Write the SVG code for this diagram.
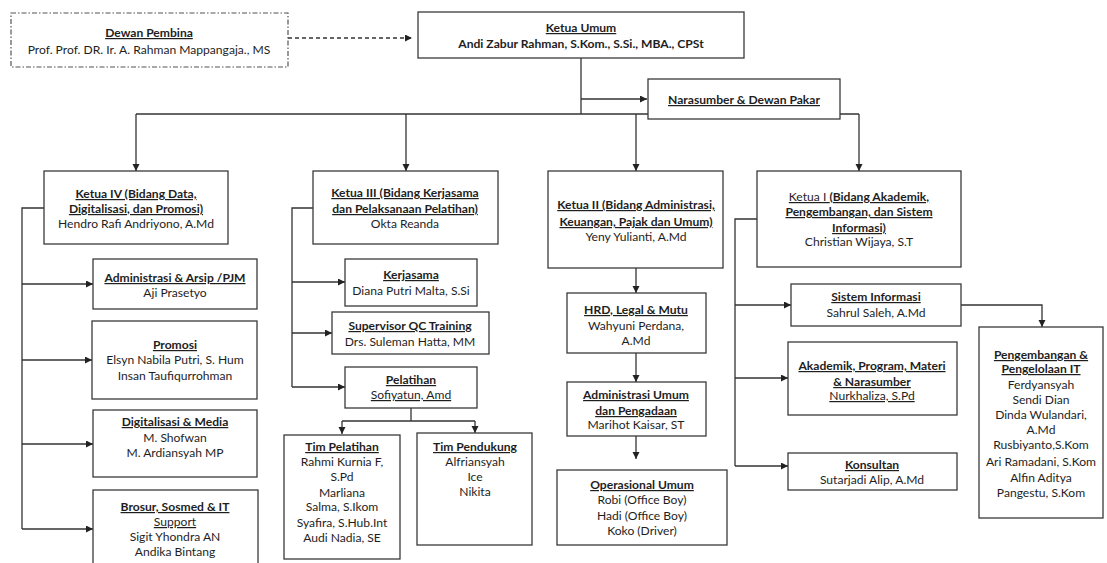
<svg xmlns="http://www.w3.org/2000/svg" width="1107" height="563" viewBox="0 0 1107 563">
<style>
.box{fill:#fff;stroke:#3a3a3a;stroke-width:1.3}
.dash{fill:#fff;stroke:#555;stroke-width:1.2;stroke-dasharray:5 2 1.5 2}
text{font-family:Lato,"Open Sans","Liberation Sans",sans-serif;font-size:12.1px;fill:#1e1e1e;text-anchor:middle}
.b{font-weight:bold}
.u{text-decoration:underline}
.c line,.c path{fill:none;stroke:#333;stroke-width:1.3}
</style>
<defs>
<marker id="ah" markerUnits="userSpaceOnUse" markerWidth="8" markerHeight="8" refX="7" refY="3.5" orient="auto">
<path d="M0,0 L7,3.5 L0,7 z" fill="#222"/>
</marker>
</defs>

<g class="c" id="connectors">
<path d="M288,38 H412" stroke-dasharray="4 3" marker-end="url(#ah)"/>
<path d="M581,58 V114"/>
<path d="M581,99 H647" marker-end="url(#ah)"/>
<path d="M136,114 H859"/>
<path d="M136,114 V171" marker-end="url(#ah)"/>
<path d="M406,114 V171" marker-end="url(#ah)"/>
<path d="M636,114 V171" marker-end="url(#ah)"/>
<path d="M859,114 V171" marker-end="url(#ah)"/>
<path d="M44,208 H22 V529"/>
<path d="M22,284 H93" marker-end="url(#ah)"/>
<path d="M22,360 H92" marker-end="url(#ah)"/>
<path d="M22,444 H93" marker-end="url(#ah)"/>
<path d="M22,529 H93" marker-end="url(#ah)"/>
<path d="M313,208 H292 V387"/>
<path d="M292,282 H345" marker-end="url(#ah)"/>
<path d="M292,333 H332" marker-end="url(#ah)"/>
<path d="M292,387 H345" marker-end="url(#ah)"/>
<path d="M411,408 V421"/>
<path d="M342,421 H475"/>
<path d="M342,421 V434" marker-end="url(#ah)"/>
<path d="M475,421 V433" marker-end="url(#ah)"/>
<path d="M636,268 V293" marker-end="url(#ah)"/>
<path d="M636,353 V382" marker-end="url(#ah)"/>
<path d="M636,436 V459" marker-end="url(#ah)"/>
<path d="M757,219 H735 V466"/>
<path d="M735,305 H791" marker-end="url(#ah)"/>
<path d="M735,378 H788" marker-end="url(#ah)"/>
<path d="M735,466 H788" marker-end="url(#ah)"/>
<path d="M961,305 H1042 V327" marker-end="url(#ah)"/>
</g>

<g id="dewan-pembina">
<rect class="dash" x="11" y="13" width="277" height="54"/>
<text x="149" y="37" class="b u">Dewan Pembina</text>
<text x="149" y="54">Prof. Prof. DR. Ir. A. Rahman Mappangaja., MS</text>
</g>

<g id="ketua-umum">
<rect class="box" x="418" y="12" width="326" height="46"/>
<text x="581" y="32" class="b u">Ketua Umum</text>
<text x="581" y="48" class="b">Andi Zabur Rahman, S.Kom., S.Si., MBA., CPSt</text>
</g>

<g id="narasumber">
<rect class="box" x="648" y="79" width="192" height="40"/>
<text x="744" y="104" class="b u">Narasumber &amp; Dewan Pakar</text>
</g>

<g id="ketua-iv">
<rect class="box" x="44" y="171" width="184" height="73"/>
<text x="136" y="198" class="b u">Ketua IV (Bidang Data,</text>
<text x="136" y="213" class="b u">Digitalisasi, dan Promosi)</text>
<text x="136" y="228">Hendro Rafi Andriyono, A.Md</text>
</g>

<g id="administrasi-arsip">
<rect class="box" x="93" y="259" width="164" height="50"/>
<text x="175" y="282" class="b u">Administrasi &amp; Arsip /PJM</text>
<text x="175" y="297">Aji Prasetyo</text>
</g>

<g id="promosi">
<rect class="box" x="92" y="321" width="165" height="78"/>
<text x="175" y="349" class="b u">Promosi</text>
<text x="175" y="364">Elsyn Nabila Putri, S. Hum</text>
<text x="175" y="380">Insan  Taufiqurrohman</text>
</g>

<g id="digitalisasi-media">
<rect class="box" x="93" y="410" width="164" height="67"/>
<text x="175" y="426" class="b u">Digitalisasi &amp; Media</text>
<text x="175" y="442">M. Shofwan</text>
<text x="175" y="457">M. Ardiansyah MP</text>
</g>

<g id="brosur-sosmed">
<rect class="box" x="93" y="490" width="165" height="80"/>
<text x="175" y="511" class="b u">Brosur, Sosmed &amp; IT</text>
<text x="175" y="526" class="u">Support</text>
<text x="175" y="541">Sigit Yhondra AN</text>
<text x="175" y="556">Andika Bintang</text>
</g>

<g id="ketua-iii">
<rect class="box" x="313" y="171" width="185" height="73"/>
<text x="405" y="197" class="b u">Ketua III (Bidang Kerjasama</text>
<text x="405" y="213" class="b u">dan Pelaksanaan Pelatihan)</text>
<text x="405" y="228">Okta Reanda</text>
</g>

<g id="kerjasama">
<rect class="box" x="345" y="259" width="132" height="47"/>
<text x="411" y="279" class="b u">Kerjasama</text>
<text x="411" y="295">Diana Putri Malta, S.Si</text>
</g>

<g id="supervisor-qc">
<rect class="box" x="332" y="312" width="157" height="42"/>
<text x="410" y="330" class="b u">Supervisor QC Training</text>
<text x="410" y="346">Drs. Suleman Hatta, MM</text>
</g>

<g id="pelatihan">
<rect class="box" x="345" y="367" width="132" height="41"/>
<text x="411" y="384" class="b u">Pelatihan</text>
<text x="411" y="399" class="u">Sofiyatun, Amd</text>
</g>

<g id="tim-pelatihan">
<rect class="box" x="284" y="435" width="116" height="124"/>
<text x="342" y="451" class="b u">Tim Pelatihan</text>
<text x="342" y="466">Rahmi Kurnia F,</text>
<text x="342" y="481">S.Pd</text>
<text x="342" y="497">Marliana</text>
<text x="342" y="511">Salma, S.Ikom</text>
<text x="342" y="527">Syafira, S.Hub.Int</text>
<text x="342" y="542">Audi Nadia, SE</text>
</g>

<g id="tim-pendukung">
<rect class="box" x="417" y="433" width="115" height="112"/>
<text x="475" y="451" class="b u">Tim Pendukung</text>
<text x="475" y="466">Alfriansyah</text>
<text x="475" y="481">Ice</text>
<text x="475" y="496">Nikita</text>
</g>

<g id="ketua-ii">
<rect class="box" x="548" y="171" width="175" height="97"/>
<text x="636" y="209" class="b u">Ketua II (Bidang Administrasi,</text>
<text x="636" y="226" class="b u">Keuangan, Pajak dan Umum)</text>
<text x="636" y="241">Yeny Yulianti, A.Md</text>
</g>

<g id="hrd-legal">
<rect class="box" x="567" y="293" width="139" height="60"/>
<text x="636" y="314" class="b u">HRD, Legal &amp; Mutu</text>
<text x="636" y="330">Wahyuni Perdana,</text>
<text x="636" y="345">A.Md</text>
</g>

<g id="administrasi-umum">
<rect class="box" x="567" y="382" width="139" height="54"/>
<text x="636" y="399" class="b u">Administrasi Umum</text>
<text x="636" y="415" class="b u">dan Pengadaan</text>
<text x="636" y="429">Marihot Kaisar, ST</text>
</g>

<g id="operasional-umum">
<rect class="box" x="557" y="470" width="170" height="75"/>
<text x="642" y="489" class="b u">Operasional Umum</text>
<text x="642" y="504">Robi (Office Boy)</text>
<text x="642" y="520">Hadi (Office Boy)</text>
<text x="642" y="535">Koko (Driver)</text>
</g>

<g id="ketua-i">
<rect class="box" x="757" y="171" width="204" height="96"/>
<text x="859" y="201" class="u"><tspan>Ketua I </tspan><tspan class="b">(Bidang Akademik,</tspan></text>
<text x="859" y="216" class="b u">Pengembangan, dan Sistem</text>
<text x="859" y="232" class="b u">Informasi)</text>
<text x="859" y="246">Christian Wijaya, S.T</text>
</g>

<g id="sistem-informasi">
<rect class="box" x="791" y="284" width="170" height="42"/>
<text x="876" y="301" class="b u">Sistem Informasi</text>
<text x="876" y="317">Sahrul Saleh, A.Md</text>
</g>

<g id="akademik-program">
<rect class="box" x="788" y="342" width="169" height="73"/>
<text x="872" y="370" class="b u">Akademik, Program, Materi</text>
<text x="872" y="386" class="b u">&amp; Narasumber</text>
<text x="872" y="400" class="u">Nurkhaliza, S.Pd</text>
</g>

<g id="konsultan">
<rect class="box" x="788" y="453" width="169" height="37"/>
<text x="872" y="469" class="b u">Konsultan</text>
<text x="872" y="484">Sutarjadi Alip, A.Md</text>
</g>

<g id="pengembangan-it">
<rect class="box" x="979" y="327" width="124" height="191"/>
<text x="1041" y="359" class="b u">Pengembangan &amp;</text>
<text x="1041" y="373" class="b u">Pengelolaan IT</text>
<text x="1041" y="389">Ferdyansyah</text>
<text x="1041" y="404">Sendi Dian</text>
<text x="1041" y="419">Dinda Wulandari,</text>
<text x="1041" y="434">A.Md</text>
<text x="1041" y="449">Rusbiyanto,S.Kom</text>
<text x="1041" y="466">Ari Ramadani, S.Kom</text>
<text x="1041" y="482">Alfin Aditya</text>
<text x="1041" y="497">Pangestu, S.Kom</text>
</g>
</svg>
